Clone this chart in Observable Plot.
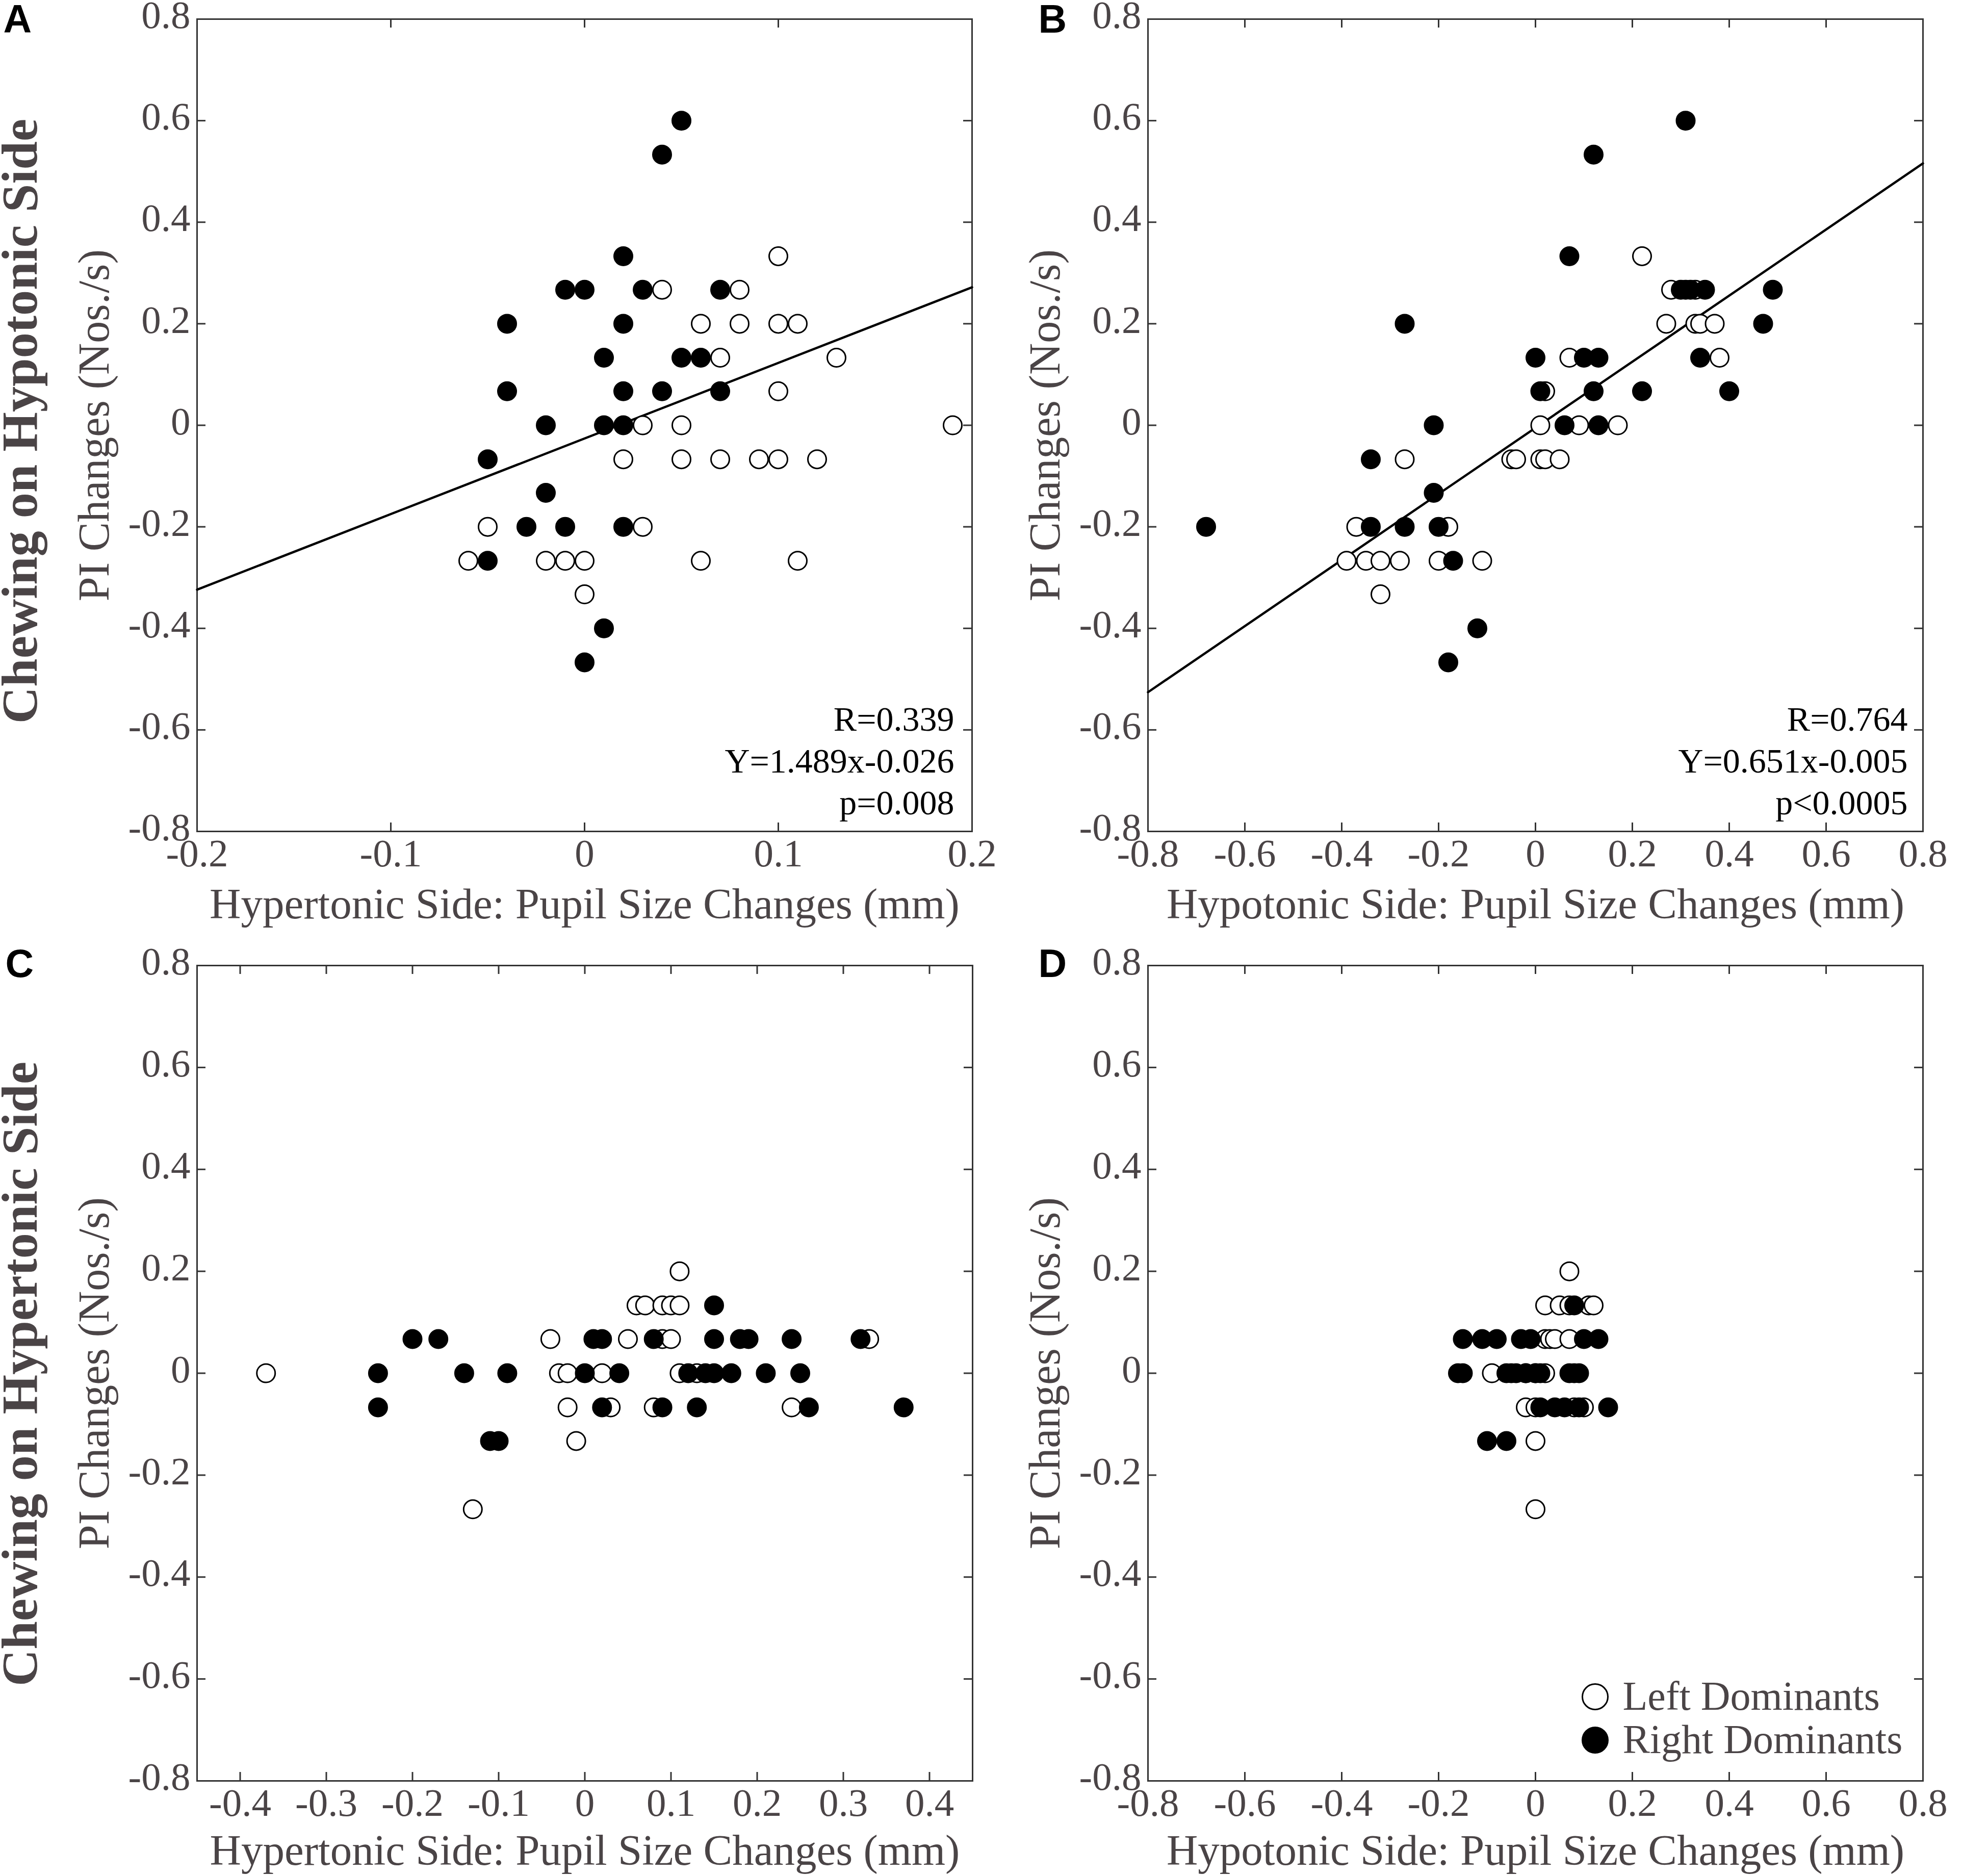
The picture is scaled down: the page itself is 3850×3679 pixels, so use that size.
<!DOCTYPE html>
<html>
<head>
<meta charset="utf-8">
<script src="https://cdn.jsdelivr.net/npm/d3@7"></script>
<script src="https://cdn.jsdelivr.net/npm/@observablehq/plot@0.6"></script>
<style>
html, body { margin: 0; padding: 0; background: #fff; }
#fig { position: relative; width: 3850px; height: 3679px; background: #fff; overflow: hidden; }
#fig svg { position: absolute; overflow: visible; max-width: none; }
</style>
</head>
<body>
<div id="fig"></div>
<script>
// ---------- data (x = pupil size change in mm, y = PI change in Nos./s) ----------
const yTicks = [-0.8, -0.6, -0.4, -0.2, 0, 0.2, 0.4, 0.6, 0.8];
const xTicksA = [-0.2, -0.1, 0, 0.1, 0.2];
const xTicksB = [-0.8, -0.6, -0.4, -0.2, 0, 0.2, 0.4, 0.6, 0.8];
const xTicksC = [-0.4, -0.3, -0.2, -0.1, 0, 0.1, 0.2, 0.3, 0.4];
const xTicksD = [-0.8, -0.6, -0.4, -0.2, 0, 0.2, 0.4, 0.6, 0.8];
const xDomainA = [-0.2, 0.2];
const xDomainB = [-0.8, 0.8];
const xDomainC = [-0.45, 0.45];
const xDomainD = [-0.8, 0.8];
const yDomain = [-0.8, 0.8];

// Panel A: chewing on hypotonic side, hypertonic-side pupil
const aLeft = [[0.1,0.333],[0.04,0.267],[0.08,0.267],[0.06,0.2],[0.08,0.2],[0.1,0.2],[0.11,0.2],[0.07,0.133],[0.13,0.133],[0.1,0.067],[0.03,0],[0.05,0],[0.19,0],[0.02,-0.067],[0.05,-0.067],[0.07,-0.067],[0.09,-0.067],[0.1,-0.067],[0.12,-0.067],[-0.05,-0.2],[0.03,-0.2],[-0.06,-0.267],[-0.02,-0.267],[-0.01,-0.267],[0,-0.267],[0.06,-0.267],[0.11,-0.267],[0,-0.333]];
const aRight = [[0.05,0.6],[0.04,0.533],[0.02,0.333],[-0.01,0.267],[0,0.267],[0.03,0.267],[0.07,0.267],[-0.04,0.2],[0.02,0.2],[0.01,0.133],[0.05,0.133],[0.06,0.133],[-0.04,0.067],[0.02,0.067],[0.04,0.067],[0.07,0.067],[-0.02,0],[0.01,0],[0.02,0],[-0.05,-0.067],[-0.02,-0.133],[-0.03,-0.2],[-0.01,-0.2],[0.02,-0.2],[-0.05,-0.267],[0.01,-0.4],[0,-0.467]];

// Panel B: chewing on hypotonic side, hypotonic-side pupil
const bLeft = [[0.22,0.333],[0.28,0.267],[0.33,0.267],[0.27,0.2],[0.33,0.2],[0.34,0.2],[0.37,0.2],[0.07,0.133],[0.38,0.133],[0.02,0.067],[0.01,0],[0.09,0],[0.17,0],[-0.27,-0.067],[-0.05,-0.067],[-0.04,-0.067],[0.01,-0.067],[0.02,-0.067],[0.05,-0.067],[-0.37,-0.2],[-0.18,-0.2],[-0.39,-0.267],[-0.35,-0.267],[-0.32,-0.267],[-0.28,-0.267],[-0.2,-0.267],[-0.11,-0.267],[-0.32,-0.333]];
const bRight = [[0.31,0.6],[0.12,0.533],[0.07,0.333],[0.3,0.267],[0.31,0.267],[0.32,0.267],[0.35,0.267],[0.49,0.267],[-0.27,0.2],[0.47,0.2],[0,0.133],[0.1,0.133],[0.13,0.133],[0.34,0.133],[0.01,0.067],[0.12,0.067],[0.22,0.067],[0.4,0.067],[-0.21,0],[0.06,0],[0.13,0],[-0.34,-0.067],[-0.21,-0.133],[-0.68,-0.2],[-0.34,-0.2],[-0.27,-0.2],[-0.2,-0.2],[-0.17,-0.267],[-0.12,-0.4],[-0.18,-0.467]];

// Panel C: chewing on hypertonic side, hypertonic-side pupil
const cLeft = [[0.11,0.2],[0.06,0.133],[0.07,0.133],[0.09,0.133],[0.1,0.133],[0.11,0.133],[-0.04,0.067],[0.05,0.067],[0.09,0.067],[0.1,0.067],[0.33,0.067],[-0.37,0],[-0.03,0],[-0.02,0],[0.02,0],[0.11,0],[0.13,0],[-0.02,-0.067],[0.03,-0.067],[0.08,-0.067],[0.24,-0.067],[-0.01,-0.133],[-0.13,-0.267]];
const cRight = [[0.15,0.133],[-0.2,0.067],[-0.17,0.067],[0.01,0.067],[0.02,0.067],[0.08,0.067],[0.15,0.067],[0.18,0.067],[0.19,0.067],[0.24,0.067],[0.32,0.067],[-0.24,0],[-0.14,0],[-0.09,0],[0,0],[0.04,0],[0.12,0],[0.14,0],[0.15,0],[0.17,0],[0.21,0],[0.25,0],[-0.24,-0.067],[0.02,-0.067],[0.09,-0.067],[0.13,-0.067],[0.26,-0.067],[0.37,-0.067],[-0.11,-0.133],[-0.1,-0.133]];

// Panel D: chewing on hypertonic side, hypotonic-side pupil
const dLeft = [[0.07,0.2],[0.02,0.133],[0.05,0.133],[0.07,0.133],[0.11,0.133],[0.12,0.133],[0.02,0.067],[0.03,0.067],[0.04,0.067],[0.07,0.067],[-0.09,0],[-0.05,0],[-0.02,0],[0,0],[0.02,0],[0.08,0],[-0.02,-0.067],[0,-0.067],[0.08,-0.067],[0.1,-0.067],[0,-0.133],[0,-0.267]];
const dRight = [[0.08,0.133],[-0.15,0.067],[-0.11,0.067],[-0.08,0.067],[-0.03,0.067],[-0.01,0.067],[0.1,0.067],[0.13,0.067],[-0.16,0],[-0.15,0],[-0.06,0],[-0.04,0],[-0.02,0],[0,0],[0.01,0],[0.07,0],[0.09,0],[0.01,-0.067],[0.04,-0.067],[0.06,-0.067],[0.09,-0.067],[0.15,-0.067],[-0.1,-0.133],[-0.06,-0.133]];

// regression fits (slope, intercept) and statistics as printed
const fitA = [1.489, -0.026];
const fitB = [0.651, -0.005];
const statsA = ["R=0.339", "Y=1.489x-0.026", "p=0.008"];
const statsB = ["R=0.764", "Y=0.651x-0.005", "p<0.0005"];

const xLabelHyper = "Hypertonic Side: Pupil Size Changes (mm)";
const xLabelHypo = "Hypotonic Side: Pupil Size Changes (mm)";
const yLabel = "PI Changes (Nos./s)";
const rowLabels = ["Chewing on Hypotonic Side", "Chewing on Hypertonic Side"];
const panelLetters = ["A", "B", "C", "D"];
const legendLabels = ["Left Dominants", "Right Dominants"];

// ---------- styling ----------
const GREY = "#4a4446";
const FRAME = "#333333";
const SERIF = "'Liberation Serif', 'Times New Roman', Times, serif";
const SANS = "'Liberation Sans', Arial, Helvetica, sans-serif";
const fmt = d => d === 0 ? "0" : d.toFixed(1);
const toObj = a => a.map(([x, y]) => ({x, y}));

function panel(cfg) {
  const fw = cfg.width - cfg.ml - cfg.mr;
  const fh = cfg.height - cfg.mt - cfg.mb;
  const tickStyle = {stroke: FRAME, strokeWidth: 3};
  const marks = [
    Plot.frame({stroke: FRAME, strokeWidth: 3}),
    Plot.tickX(cfg.xTicks, {x: d => d, insetTop: fh - 17, ...tickStyle}),
    Plot.tickX(cfg.xTicks, {x: d => d, insetBottom: fh - 17, ...tickStyle}),
    Plot.tickY(yTicks, {y: d => d, insetRight: fw - 17, ...tickStyle}),
    Plot.tickY(yTicks, {y: d => d, insetLeft: fw - 17, ...tickStyle}),
    Plot.axisX({ticks: cfg.xTicks, tickSize: 0, tickPadding: 14, tickFormat: fmt, fontSize: 77, fill: GREY, fontFamily: SERIF, label: null}),
    Plot.axisY({ticks: yTicks, tickSize: 0, tickPadding: 13, tickFormat: fmt, fontSize: 77, fill: GREY, fontFamily: SERIF, dy: -7, label: null}),
    Plot.text([cfg.xLabel], {frameAnchor: "bottom", textAnchor: "middle", lineAnchor: "middle", dy: cfg.xLabelDy, fontSize: 85, fill: GREY, fontFamily: SERIF}),
    Plot.text([yLabel], {frameAnchor: "left", textAnchor: "middle", lineAnchor: "middle", rotate: -90, dx: -201.5, dy: 0, fontSize: 86, fill: GREY, fontFamily: SERIF}),
    Plot.text([cfg.letter], {frameAnchor: "top-left", textAnchor: "start", lineAnchor: "middle", dx: cfg.letterDx, dy: cfg.letterDy, fontSize: 77, fontWeight: "bold", fill: "#000", fontFamily: SANS})
  ];
  if (cfg.rowLabel) {
    marks.push(Plot.text([cfg.rowLabel], {frameAnchor: "left", textAnchor: "middle", lineAnchor: "middle", rotate: -90, dx: -347, dy: cfg.rowDy, fontSize: 100, fontWeight: "bold", fill: GREY, fontFamily: SERIF}));
  }
  if (cfg.fit) {
    const [m, b] = cfg.fit;
    const line = cfg.xDomain.map(x => ({x, y: m * x + b}));
    marks.push(Plot.line(line, {x: "x", y: "y", stroke: "#000", strokeWidth: 4.5}));
  }
  marks.push(Plot.dot(toObj(cfg.left), {x: "x", y: "y", r: 18, fill: "#fff", stroke: "#000", strokeWidth: 3}));
  marks.push(Plot.dot(toObj(cfg.right), {x: "x", y: "y", r: 18, fill: "#000", stroke: "#000", strokeWidth: 3}));
  if (cfg.stats) {
    const offs = [-219, -137, -55];
    cfg.stats.forEach((s, i) => {
      marks.push(Plot.text([s], {frameAnchor: "bottom-right", textAnchor: "end", lineAnchor: "middle", dx: cfg.statsDx, dy: offs[i], fontSize: 68, fill: "#000", fontFamily: SERIF}));
    });
  }
  if (cfg.legend) {
    marks.push(Plot.dot([legendLabels[0]], {frameAnchor: "bottom-right", dx: -643, dy: -165, r: 25, fill: "#fff", stroke: "#000", strokeWidth: 3}));
    marks.push(Plot.dot([legendLabels[1]], {frameAnchor: "bottom-right", dx: -643, dy: -80, r: 25, fill: "#000", stroke: "#000", strokeWidth: 3}));
    marks.push(Plot.text([legendLabels[0]], {frameAnchor: "bottom-right", textAnchor: "start", lineAnchor: "middle", dx: -589, dy: -165.6, fontSize: 80, fill: GREY, fontFamily: SERIF}));
    marks.push(Plot.text([legendLabels[1]], {frameAnchor: "bottom-right", textAnchor: "start", lineAnchor: "middle", dx: -589, dy: -80.6, fontSize: 80, fill: GREY, fontFamily: SERIF}));
  }
  const svg = Plot.plot({
    width: cfg.width,
    height: cfg.height,
    marginTop: cfg.mt,
    marginBottom: cfg.mb,
    marginLeft: cfg.ml,
    marginRight: cfg.mr,
    x: {domain: cfg.xDomain, label: null},
    y: {domain: yDomain, label: null},
    style: {background: "transparent", fontFamily: SERIF, fontSize: "77px", overflow: "visible"},
    marks
  });
  svg.style.left = cfg.left0 + "px";
  svg.style.top = cfg.top0 + "px";
  document.getElementById("fig").appendChild(svg);
}

panel({left0: 0, top0: 0, width: 1990, height: 1850, ml: 386, mr: 84, mt: 37, mb: 220,
  xDomain: xDomainA, xTicks: xTicksA, left: aLeft, right: aRight, fit: fitA, stats: statsA, statsDx: -35,
  xLabel: xLabelHyper, xLabelDy: 143, rowLabel: rowLabels[0], rowDy: -8,
  letter: panelLetters[0], letterDx: -380, letterDy: 1.4});
panel({left0: 1990, top0: 0, width: 1860, height: 1850, ml: 261, mr: 79, mt: 37, mb: 220,
  xDomain: xDomainB, xTicks: xTicksB, left: bLeft, right: bRight, fit: fitB, stats: statsB, statsDx: -30,
  xLabel: xLabelHypo, xLabelDy: 143,
  letter: panelLetters[1], letterDx: -215, letterDy: 1.4});
panel({left0: 0, top0: 1850, width: 1990, height: 1829, ml: 386, mr: 83, mt: 43, mb: 187,
  xDomain: xDomainC, xTicks: xTicksC, left: cLeft, right: cRight,
  xLabel: xLabelHyper, xLabelDy: 137, rowLabel: rowLabels[1], rowDy: 1.5,
  letter: panelLetters[2], letterDx: -376, letterDy: -2.6});
panel({left0: 1990, top0: 1850, width: 1860, height: 1829, ml: 261, mr: 79, mt: 43, mb: 187,
  xDomain: xDomainD, xTicks: xTicksD, left: dLeft, right: dRight, legend: true,
  xLabel: xLabelHypo, xLabelDy: 137,
  letter: panelLetters[3], letterDx: -215, letterDy: -2.6});
</script>
</body>
</html>
